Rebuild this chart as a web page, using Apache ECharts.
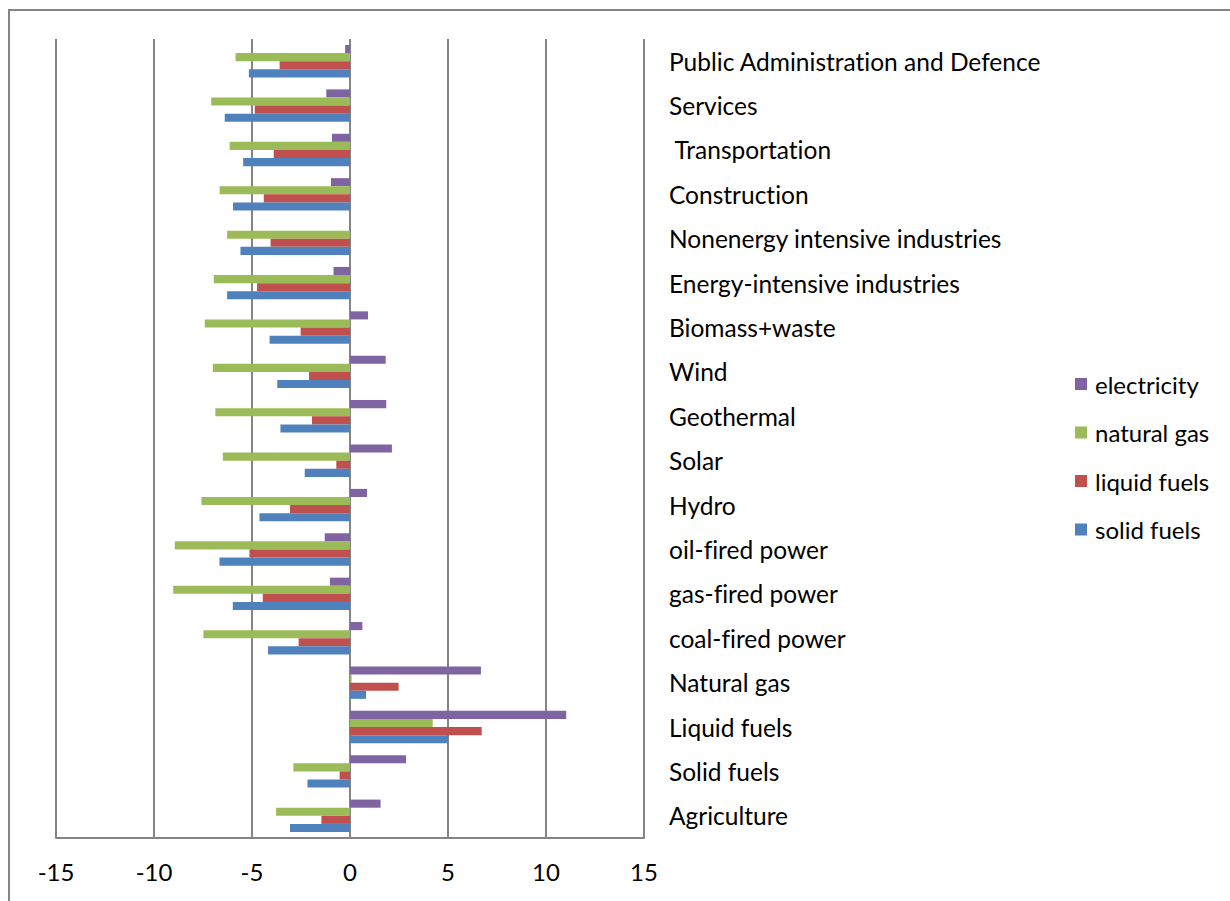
<!DOCTYPE html>
<html>
<head>
<meta charset="utf-8">
<script src="https://cdn.jsdelivr.net/npm/echarts@6/dist/echarts.min.js"></script>
<style>
  html, body { margin: 0; padding: 0; background: #fff; }
  #chart { width: 1230px; height: 901px; font-variant-ligatures: none; font-feature-settings: "liga" 0, "clig" 0; }
  #chart text { font-variant-ligatures: none; font-feature-settings: "liga" 0, "clig" 0; }
</style>
</head>
<body>
<div id="chart"></div>
<script>
// Sectors, listed from the bottom of the chart upward
const categories = [
  'Agriculture', 'Solid fuels', 'Liquid fuels', 'Natural gas',
  'coal-fired power', 'gas-fired power', 'oil-fired power', 'Hydro',
  'Solar', 'Geothermal', 'Wind', 'Biomass+waste',
  'Energy-intensive industries', 'Nonenergy intensive industries',
  'Construction', ' Transportation', 'Services',
  'Public Administration and Defence'
];

// Change per sector for each energy carrier
const electricity = [1.56, 2.86, 11.03, 6.68, 0.63, -1.02, -1.29, 0.87, 2.14, 1.85, 1.82, 0.92, -0.84, 0, -0.97, -0.92, -1.21, -0.25];
const naturalGas  = [-3.77, -2.89, 4.22, 0.08, -7.48, -9.02, -8.94, -7.58, -6.49, -6.87, -7.0, -7.41, -6.95, -6.27, -6.65, -6.14, -7.08, -5.84];
const liquidFuels = [-1.46, -0.53, 6.72, 2.48, -2.62, -4.45, -5.13, -3.06, -0.7, -1.94, -2.09, -2.52, -4.74, -4.05, -4.4, -3.89, -4.86, -3.59];
const solidFuels  = [-3.06, -2.17, 5.0, 0.82, -4.18, -5.98, -6.66, -4.62, -2.31, -3.55, -3.71, -4.1, -6.27, -5.59, -5.97, -5.45, -6.39, -5.16];

const seriesNames = ['electricity', 'natural gas', 'liquid fuels', 'solid fuels'];
const seriesData = [electricity, naturalGas, liquidFuels, solidFuels];
const seriesColors = ['#8064A2', '#9BBB59', '#C0504D', '#4F81BD'];

const FONT = 'Lato, "Open Sans", sans-serif';
const GRID_COLOR = '#858585';

const chart = echarts.init(document.getElementById('chart'), null, { renderer: 'svg' });

chart.setOption({
  animation: false,
  backgroundColor: '#ffffff',
  textStyle: { fontFamily: FONT },
  graphic: [{
    type: 'rect',
    shape: { x: 9, y: 10, width: 1240, height: 920 },
    style: { fill: 'none', stroke: GRID_COLOR, lineWidth: 2 },
    silent: true
  }],
  grid: { left: 56, right: 586, top: 39, bottom: 63, containLabel: false },
  legend: {
    orient: 'vertical',
    left: 1075,
    top: 372,
    padding: 0,
    data: seriesNames,
    itemWidth: 12,
    itemHeight: 12,
    itemGap: 24.5,
    icon: 'rect',
    textStyle: { fontSize: 24, color: '#000', fontFamily: FONT, padding: [0, 0, 0, 3] }
  },
  xAxis: {
    type: 'value',
    min: -15,
    max: 15,
    interval: 5,
    axisLine: { show: true, onZero: false, lineStyle: { color: GRID_COLOR, width: 2 } },
    axisTick: { show: false },
    axisLabel: { fontSize: 24, color: '#000', margin: 21, fontFamily: FONT },
    splitLine: { show: true, lineStyle: { color: GRID_COLOR, width: 2 } }
  },
  yAxis: {
    type: 'category',
    data: categories,
    position: 'right',
    axisLine: { show: false },
    axisTick: { show: false },
    axisLabel: { fontSize: 24.5, color: '#000', margin: 25, align: 'left', fontFamily: FONT, padding: [0, 0, 4, 0] },
    splitLine: { show: false }
  },
  series: seriesNames.map((name, i) => ({
    name,
    type: 'bar',
    data: seriesData[i],
    barGap: '0%',
    barCategoryGap: '27%',
    itemStyle: { color: seriesColors[i] }
  }))
});
</script>
</body>
</html>
